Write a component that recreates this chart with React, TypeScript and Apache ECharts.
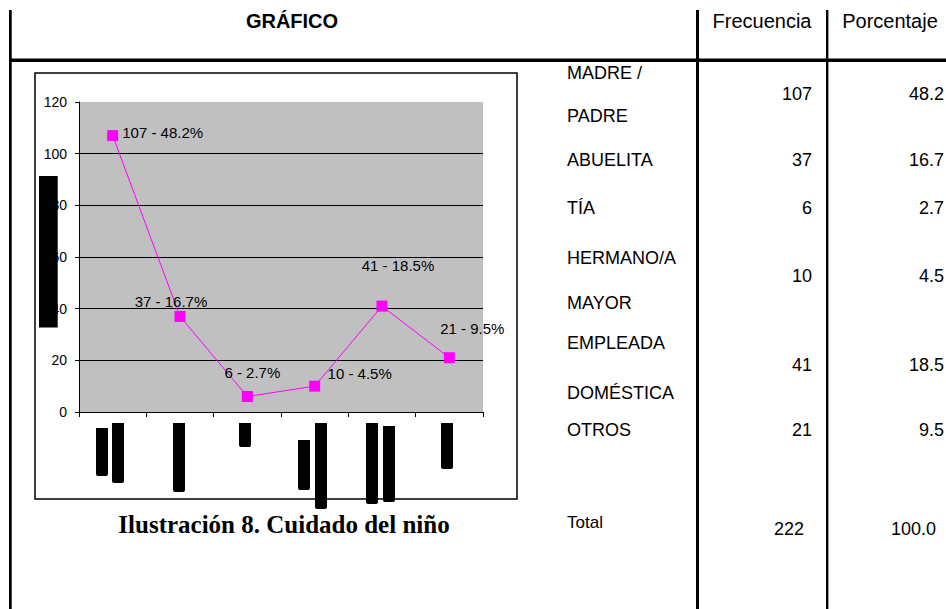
import React, { useEffect, useRef } from "react";
import * as echarts from "echarts";

// ---- data ----
const categories = ["MADRE / PADRE", "ABUELITA", "TÍA", "HERMANO/A MAYOR", "EMPLEADA DOMÉSTICA", "OTROS"];
const frecuencia = [107, 37, 6, 10, 41, 21];
const porcentaje = [48.2, 16.7, 2.7, 4.5, 18.5, 9.5];
const totalFrecuencia = 222;
const totalPorcentaje = "100.0";
const yTicks = { min: 0, max: 120, interval: 20 };

// table row label lines (label text, baseline)
const rowLabels: [string, number][] = [
  ["MADRE /", 79.3],
  ["PADRE", 122.7],
  ["ABUELITA", 166],
  ["TÍA", 214],
  ["HERMANO/A", 264],
  ["MAYOR", 309],
  ["EMPLEADA", 349.3],
  ["DOMÉSTICA", 399.3],
  ["OTROS", 436.7],
];
const rowValueBaselines = [100, 166, 214, 282.7, 371.7, 436.7];

// label offsets (style)
const labelOffsets: [number, number][] = [
  [50, -3],
  [-9, -15],
  [5, -24],
  [45, -13],
  [16, -41],
  [23, -29],
];

// obscured category label blocks (style artefacts under axis)
const blocks: [number, number, number, number][] = [
  [96, 428, 12, 48],
  [112, 423, 12, 60],
  [173, 423, 12, 69],
  [239, 423, 12, 24],
  [298, 440, 12, 50],
  [315, 423, 12, 86],
  [366, 423, 12, 81],
  [383, 426, 12, 76],
  [441, 423, 12, 46],
];

const FONT = "Arial, 'Liberation Sans', sans-serif";
const SERIF = "'Times New Roman', 'Liberation Serif', serif";

function txt(text: string, x: number, baseline: number, fs: number, align: string, opts: any = {}) {
  return {
    type: "text",
    z: 100,
    x,
    y: baseline - 0.36 * fs,
    style: {
      text,
      fill: "#000",
      fontSize: fs,
      fontFamily: opts.family || FONT,
      fontWeight: opts.weight || "normal",
      align,
      textAlign: align,
      verticalAlign: "middle",
      textVerticalAlign: "middle",
    },
  };
}

export default function App() {
  const ref = useRef<HTMLDivElement>(null);
  useEffect(() => {
    if (!ref.current) return;
    const chart = echarts.init(ref.current, null, { renderer: "svg" });

    const graphics: any[] = [];
    // table lines
    graphics.push({ type: "rect", z: 100, shape: { x: 9, y: 10, width: 2.7, height: 599 }, style: { fill: "#000" } });
    graphics.push({ type: "rect", z: 100, shape: { x: 696, y: 10, width: 3, height: 599 }, style: { fill: "#000" } });
    graphics.push({ type: "rect", z: 100, shape: { x: 826, y: 10, width: 2.4, height: 599 }, style: { fill: "#000" } });
    graphics.push({ type: "rect", z: 100, shape: { x: 9, y: 58.5, width: 937, height: 3.5 }, style: { fill: "#000" } });
    // header
    graphics.push(txt("GRÁFICO", 292, 28.3, 20, "center", { weight: "bold" }));
    graphics.push(txt("Frecuencia", 762, 28.3, 20, "center"));
    graphics.push(txt("Porcentaje", 890, 28.3, 20, "center"));
    // rows
    rowLabels.forEach(([t, b]) => graphics.push(txt(t, 567, b, 18, "left")));
    frecuencia.forEach((v, i) => graphics.push(txt(String(v), 812, rowValueBaselines[i], 18, "right")));
    porcentaje.forEach((v, i) => graphics.push(txt(v.toFixed(1), 944, rowValueBaselines[i], 18, "right")));
    graphics.push(txt("Total", 567, 528.3, 17, "left"));
    graphics.push(txt(String(totalFrecuencia), 789, 535, 18, "center"));
    graphics.push(txt(totalPorcentaje, 936, 535, 18, "right"));
    // chart box
    graphics.push({ type: "rect", z: 100, shape: { x: 35, y: 73, width: 482, height: 426 }, style: { fill: "none", stroke: "#000", lineWidth: 1.5 } });
    // title
    graphics.push(txt("Ilustración 8. Cuidado del niño", 284, 533.3, 25, "center", { weight: "bold", family: SERIF }));
    // black blocks
    graphics.push({ type: "rect", z: 100, shape: { x: 39, y: 176, width: 18.7, height: 151.5 }, style: { fill: "#000" } });
    blocks.forEach(([x, y, w, h]) =>
      graphics.push({ type: "rect", z: 100, shape: { x, y, width: w, height: h, r: [0, 0, 2, 2] }, style: { fill: "#000" } })
    );

    const gridColors = ["#000", "#000", "#000", "#000", "#000", "#000", "#C0C0C0"];

    chart.setOption({
      animation: false,
      backgroundColor: "#fff",
      grid: {
        left: 79,
        top: 102,
        width: 404,
        height: 310,
        show: true,
        backgroundColor: "#C0C0C0",
        borderWidth: 0,
      },
      xAxis: {
        type: "category",
        data: categories,
        boundaryGap: true,
        axisLine: { show: true, lineStyle: { color: "#000", width: 1 } },
        axisTick: { show: true, interval: 0, length: 5, lineStyle: { color: "#000" } },
        axisLabel: { show: false },
        splitLine: { show: false },
      },
      yAxis: {
        type: "value",
        min: yTicks.min,
        max: yTicks.max,
        interval: yTicks.interval,
        axisLine: { show: true, lineStyle: { color: "#000", width: 1 } },
        axisTick: { show: true, length: 4, lineStyle: { color: "#000" } },
        axisLabel: { color: "#000", fontSize: 14, fontFamily: FONT, margin: 12 },
        splitLine: { show: true, lineStyle: { color: gridColors, width: 1 } },
      },
      series: [
        {
          type: "line",
          data: frecuencia.map((v, i) => ({
            value: v,
            label: { offset: labelOffsets[i] },
          })),
          lineStyle: { color: "#FF00FF", width: 1 },
          itemStyle: { color: "#FF00FF" },
          symbol: "rect",
          symbolSize: 11,
          label: {
            show: true,
            position: "inside",
            color: "#000",
            fontSize: 15,
            fontFamily: FONT,
            formatter: (p: any) => `${frecuencia[p.dataIndex]} - ${porcentaje[p.dataIndex]}%`,
          },
        },
      ],
      graphic: graphics,
    });
    return () => chart.dispose();
  }, []);
  return (
    <div
      ref={ref}
      style={{ position: "fixed", left: 0, top: 0, width: 946, height: 609, background: "#fff" }}
    />
  );
}
